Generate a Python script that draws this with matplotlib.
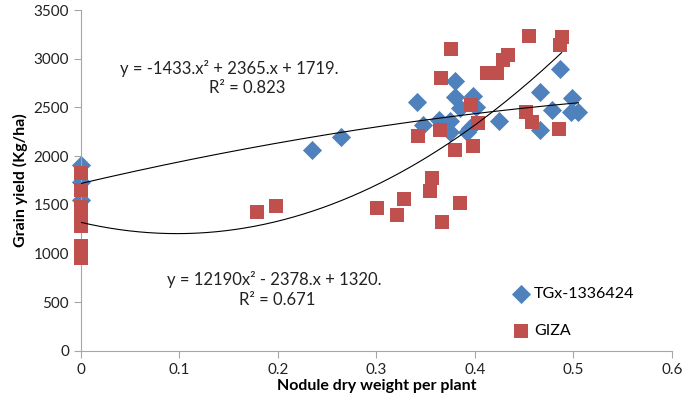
import numpy as np
import matplotlib
matplotlib.use('Agg')
import matplotlib.pyplot as plt

plt.rcParams['font.family'] = ['Lato', 'DejaVu Sans']

# TGx-1336424 (blue diamonds)
TGX_X = [0, 0, 0, 0.235, 0.264, 0.341, 0.347, 0.364, 0.375, 0.375, 0.380, 0.380,
         0.385, 0.392, 0.395, 0.398, 0.401, 0.424, 0.466, 0.466, 0.478, 0.486,
         0.499, 0.498, 0.505]
TGX_Y = [1908, 1734, 1550, 2065, 2196, 2560, 2320, 2370, 2360, 2247, 2770, 2606,
         2493, 2247, 2290, 2616, 2503, 2360, 2657, 2267, 2473, 2893,
         2596, 2452, 2452]

# GIZA (red squares)
GIZA_X = [0, 0, 0, 0, 0, 0, 0, 0.179, 0.198, 0.301, 0.321, 0.328, 0.354, 0.356,
          0.367, 0.385, 0.342, 0.365, 0.380, 0.398, 0.403, 0.396, 0.366, 0.376,
          0.412, 0.422, 0.428, 0.434, 0.455, 0.486, 0.488, 0.452, 0.458, 0.485]
GIZA_Y = [1830, 1650, 1480, 1400, 1280, 1080, 950, 1426, 1488, 1467, 1395, 1560,
          1642, 1775, 1324, 1518, 2206, 2267, 2062, 2103, 2339, 2524, 2801, 3099,
          2852, 2852, 2986, 3037, 3232, 3140, 3222, 2452, 2350, 2278]

# Trendline coefficients (from the equations shown in the chart)
TGX_FIT = [-1433, 2365, 1719]
GIZA_FIT = [12190, -2378, 1320]

BLUE = '#4F81BD'
RED = '#C0504D'
AXIS = '#A6A6A6'

fig = plt.figure(figsize=(6.85, 4.01), dpi=100)
ax = fig.add_axes([0.118, 0.125, 0.863, 0.85])

ax.scatter(TGX_X, TGX_Y, marker='D', s=95, color=BLUE, linewidths=0,
           label='TGx-1336424', zorder=2, clip_on=False)
ax.scatter(GIZA_X, GIZA_Y, marker='s', s=115, color=RED, linewidths=0,
           label='GIZA', zorder=3, clip_on=False)

xb = np.linspace(0, max(TGX_X), 200)
ax.plot(xb, np.polyval(TGX_FIT, xb), color='black', lw=0.8, zorder=4)
xr = np.linspace(0, max(GIZA_X), 200)
ax.plot(xr, np.polyval(GIZA_FIT, xr), color='black', lw=0.8, zorder=4)

# trendline labels (Excel style: R² line offset to the right)
txt = dict(ha='center', va='center', fontsize=12, color='#222222')
ax.text(0.151, 2904, 'y = -1433.x² + 2365.x + 1719.', **txt)
ax.text(0.1685, 2698, 'R² = 0.823', **txt)
ax.text(0.196, 728, 'y = 12190x² - 2378.x + 1320.', **txt)
ax.text(0.199, 523, 'R² = 0.671', **txt)

ax.set_xlim(0, 0.6)
ax.set_ylim(0, 3500)
ax.set_xticks(np.arange(0, 0.61, 0.1))
ax.set_xticklabels(['0', '0.1', '0.2', '0.3', '0.4', '0.5', '0.6'])
ax.set_yticks(np.arange(0, 3501, 500))

for side in ['top', 'right']:
    ax.spines[side].set_visible(False)
for side in ['left', 'bottom']:
    ax.spines[side].set_color(AXIS)
ax.tick_params(axis='both', colors=AXIS, labelcolor='#222222', labelsize=11,
               length=5, direction='out')

ax.set_xlabel('Nodule dry weight per plant', fontsize=11.5, fontweight='bold',
              labelpad=2)
ax.set_ylabel('Grain yield (Kg/ha)', fontsize=11.5, fontweight='bold', labelpad=4)

ax.legend(loc='upper left', bbox_to_anchor=(0.4274, 770),
          bbox_transform=ax.transData, frameon=False, fontsize=11.5,
          labelspacing=1.4, handlelength=1.0, handletextpad=0.3, borderpad=0.2)

fig.savefig('out.png', dpi=100)
